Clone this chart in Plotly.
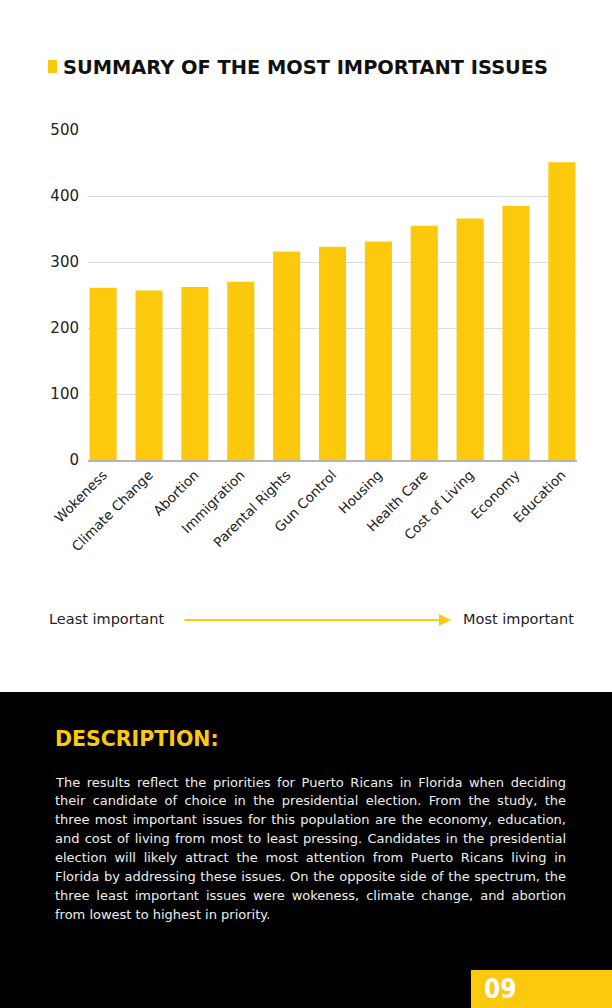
import json
import plotly.graph_objects as go

categories = ["Wokeness", "Climate Change", "Abortion", "Immigration", "Parental Rights",
              "Gun Control", "Housing", "Health Care", "Cost of Living", "Economy", "Education"]
values = [261, 257, 262, 270, 316, 323, 331, 355, 366, 385, 451]
y_ticks = [0, 100, 200, 300, 400, 500]

title_text = "SUMMARY OF THE MOST IMPORTANT ISSUES"
least_label = "Least important"
most_label = "Most important"
desc_title = "DESCRIPTION:"
desc_lines = [
    "The results reflect the priorities for Puerto Ricans in Florida when deciding",
    "their candidate of choice in the presidential election. From the study, the",
    "three most important issues for this population are the economy, education,",
    "and cost of living from most to least pressing. Candidates in the presidential",
    "election will likely attract the most attention from Puerto Ricans living in",
    "Florida by addressing these issues. On the opposite side of the spectrum, the",
    "three least important issues were wokeness, climate change, and abortion",
    "from lowest to highest in priority.",
]
page_number = "09"

YELLOW = "#FCC90C"
W, H = 612, 1008
L, R, T, B = 88, 35, 130, 548
PW, PH = W - L - R, H - T - B

def px(x):
    return (x - L) / PW

def py(y):
    return (H - B - y) / PH

FONT = "DejaVu Sans, Verdana, sans-serif"

fig = go.Figure()
fig.add_trace(go.Bar(x=categories, y=values, marker=dict(color=YELLOW, line=dict(width=0)),
                     width=0.59, hoverinfo="x+y"))

shapes = [
    dict(type="rect", xref="paper", yref="paper", x0=px(-5), x1=px(W + 5), y0=py(692), y1=py(H + 5),
         fillcolor="#000000", line=dict(width=0), layer="below"),
    dict(type="rect", xref="paper", yref="paper", x0=px(471), x1=px(W + 5), y0=py(970), y1=py(H + 5),
         fillcolor=YELLOW, line=dict(width=0)),
    dict(type="rect", xref="paper", yref="paper", x0=px(48), x1=px(57), y0=py(60), y1=py(73),
         fillcolor=YELLOW, line=dict(width=0)),
]

annotations = [
    dict(text="<b>" + title_text + "</b>", xref="paper", yref="paper", x=px(61), y=py(67),
         xanchor="left", yanchor="middle", showarrow=False,
         font=dict(family=FONT, size=19.4, color="#111111")),
    dict(text=least_label, xref="paper", yref="paper", x=px(47), y=py(619),
         xanchor="left", yanchor="middle", showarrow=False,
         font=dict(family=FONT, size=14.5, color="#222222")),
    dict(text=most_label, xref="paper", yref="paper", x=px(576), y=py(619),
         xanchor="right", yanchor="middle", showarrow=False,
         font=dict(family=FONT, size=14.5, color="#222222")),
    dict(text="", xref="paper", yref="paper", x=px(451), y=py(620), ax=-268, ay=0,
         showarrow=True, arrowhead=2, arrowsize=1.2, arrowwidth=2, arrowcolor=YELLOW),
    dict(text="<b>" + desc_title + "</b>", xref="paper", yref="paper", x=px(53), y=py(739),
         xanchor="left", yanchor="middle", showarrow=False,
         font=dict(family=FONT, size=20.5, color=YELLOW)),
    dict(text="<b>" + page_number + "</b>", xref="paper", yref="paper", x=px(482), y=py(989),
         xanchor="left", yanchor="middle", showarrow=False,
         font=dict(family="DejaVu Sans Condensed, Liberation Sans Narrow, sans-serif", size=26,
                   color="#ffffff")),
]
for i, line in enumerate(desc_lines):
    annotations.append(dict(text=line, xref="paper", yref="paper", x=px(53), y=py(782 + i * 18.9),
                            xanchor="left", yanchor="middle", showarrow=False,
                            font=dict(family=FONT, size=13, color="#eeeeee")))

fig.update_layout(
    width=W, height=H, margin=dict(l=L, r=R, t=T, b=B, pad=0),
    paper_bgcolor="#ffffff", plot_bgcolor="#ffffff",
    showlegend=False, bargap=0.41,
    shapes=shapes, annotations=annotations,
    font=dict(family=FONT, color="#222222"),
    xaxis=dict(range=[-0.33, 10.33], tickangle=-45, showgrid=False, showline=True,
               linecolor="#b5b5b5", linewidth=1.5, ticks="", fixedrange=True,
               tickfont=dict(family=FONT, size=13.5, color="#222222")),
    yaxis=dict(range=[0, 500], tickvals=y_ticks, showgrid=True, gridcolor="#dddddd", gridwidth=1,
               zeroline=False, showline=False, ticks="", ticklabelstandoff=8, fixedrange=True,
               tickfont=dict(family=FONT, size=15, color="#222222")),
)

# justify all paragraph lines except the last one to the reference text width
justify_js = """
document.body.style.margin='0';
(function(){
  var gd = document.querySelector('.plotly-graph-div');
  var targets = TARGETS;
  var target = TARGETW;
  function justify(){
    try {
      var els = gd.querySelectorAll('.annotation-text');
      els.forEach(function(el){
        var t = el.textContent;
        if (targets.indexOf(t) < 0) return;
        if (el.dataset.base === undefined) el.dataset.base = el.getAttribute('transform') || '';
        el.setAttribute('transform', el.dataset.base);
        el.setAttribute('word-spacing', '0');
        var b0 = el.getBBox();
        var n = (t.match(/ /g) || []).length;
        if (!n) return;
        var ws = (target - b0.width) / n;
        el.setAttribute('word-spacing', ws);
        var b1 = el.getBBox();
        var dx = b0.x - b1.x;
        el.setAttribute('transform', el.dataset.base + ' translate(' + dx + ',0)');
      });
    } catch (e) {}
  }
  justify();
  if (gd && gd.on) gd.on('plotly_afterplot', justify);
})();
""".replace("TARGETS", json.dumps(desc_lines[:-1])).replace("TARGETW", "511")

fig.write_html("out.html", config={"displayModeBar": False}, post_script=justify_js)
